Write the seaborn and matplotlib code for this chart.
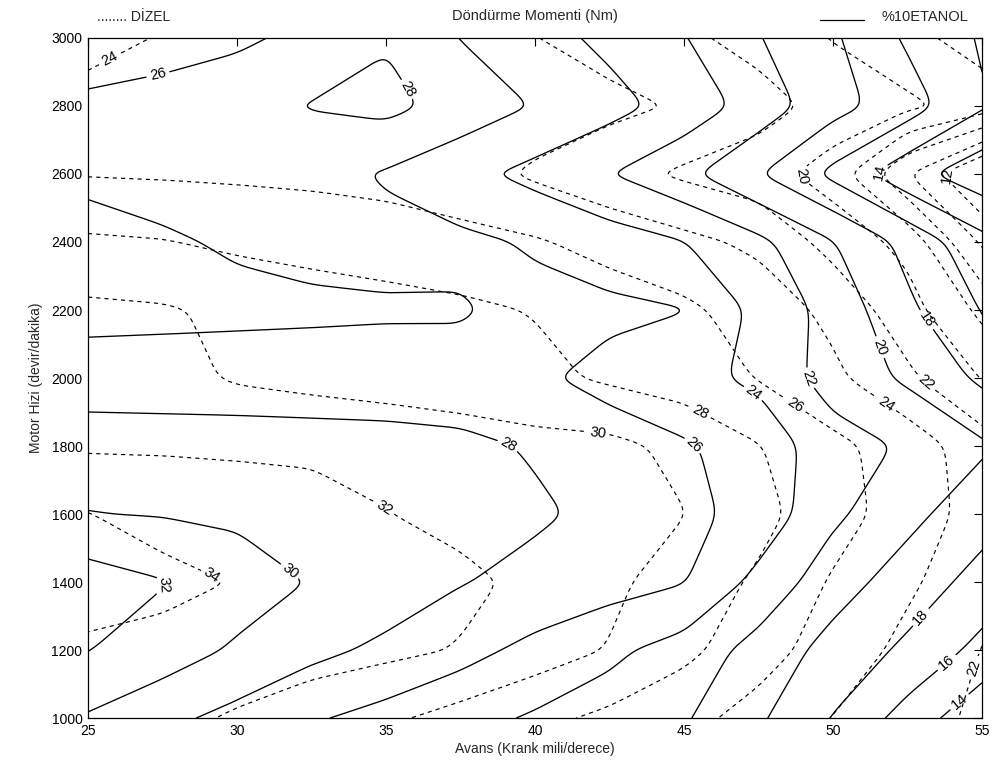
import numpy as np
import matplotlib
matplotlib.use("Agg")
import matplotlib.pyplot as plt
from matplotlib.lines import Line2D
import seaborn as sns

# Grid: injection advance (crank deg) x engine speed (rpm)
advance_deg = [25, 27.5, 30, 32.5, 35, 37.5, 40, 42.5, 45, 47.5, 50, 52.5, 55]
engine_rpm = [3000, 2800, 2600, 2400, 2200, 2000, 1800, 1600, 1400, 1200, 1000]

# Torque (Nm), one row per engine speed, columns follow advance_deg
torque_etanol = [
    [24.5, 25.0, 25.6, 26.6, 27.8, 25.95, 24.8, 23.5, 22.1, 20.1, 18.3, 15.7, 13.8],
    [26.5, 26.9, 27.4, 28.1, 28.6, 27.2, 25.9, 24.7, 23.2, 21.2, 18.7, 16.95, 14.2],
    [26.3, 26.6, 26.9, 26.7, 25.8, 24.6, 23.4, 22.05, 20.5, 18.1, 15.5, 12.7, 10.8],
    [25.5, 25.8, 26.2, 26.5, 26.6, 26.4, 25.8, 24.9, 24.05, 22.5, 20.1, 17.4, 14.6],
    [25.4, 25.5, 25.6, 25.7, 25.8, 25.85, 26.5, 26.4, 26.05, 23.5, 21.3, 18.4, 15.9],
    [26.9, 26.9, 26.9, 26.85, 26.8, 26.6, 26.3, 25.4, 24.6, 23.6, 21.1, 19.7, 17.6],
    [29.1, 29.0, 28.9, 28.8, 28.7, 28.5, 27.8, 26.9, 26.2, 25.2, 22.9, 21.75, 20.3],
    [30.05, 29.9, 29.6, 29.3, 29.1, 28.7, 28.3, 27.5, 26.5, 25.36, 22.4, 20.55, 18.8],
    [33.0, 32.1, 31.1, 29.9, 29.1, 28.1, 27.4, 26.8, 26.1, 23.4, 20.85, 19.1, 17.3],
    [32.05, 31.1, 29.7, 28.5, 27.6, 26.6, 25.5, 24.4, 23.2, 21.3, 19.3, 17.6, 15.4],
    [29.8, 28.5, 27.4, 26.2, 25.4, 24.6, 23.8, 23.1, 22.2, 20.3, 17.9, 15.2, 12.5],
]

torque_dizel = [
    [23.0, 24.2, 24.8, 25.1, 24.9, 24.6, 24.05, 23.2, 22.4, 21.3, 19.9, 18.6, 17.1],
    [25.1, 25.3, 25.5, 25.6, 25.6, 25.4, 25.1, 24.5, 23.8, 22.8, 21.3, 20.4, 19.1],
    [25.9, 25.8, 25.7, 25.6, 25.4, 24.8, 23.7, 22.7, 21.7, 20.9, 19.1, 14.1, 9.5],
    [28.3, 28.1, 27.6, 27.2, 26.9, 26.6, 26.2, 25.3, 24.5, 23.6, 21.3, 19.4, 13.7],
    [30.4, 30.2, 29.6, 29.2, 28.8, 28.4, 27.9, 27.1, 26.4, 25.1, 23.5, 20.8, 17.5],
    [31.1, 30.6, 29.8, 29.4, 29.1, 28.8, 28.5, 27.7, 27.1, 25.9, 24.4, 22.4, 19.9],
    [31.75, 31.8, 31.8, 31.8, 31.5, 31.1, 30.6, 30.5, 29.5, 28.1, 26.5, 25.1, 22.9],
    [34.05, 33.2, 32.7, 32.4, 32.05, 31.5, 31.1, 30.6, 30.05, 28.6, 26.8, 25.1, 23.2],
    [35.1, 34.6, 33.9, 33.1, 32.7, 32.4, 31.6, 30.4, 29.1, 27.7, 25.8, 24.3, 22.8],
    [33.6, 33.3, 33.1, 32.7, 32.4, 31.9, 30.9, 29.9, 28.5, 26.8, 25.1, 23.5, 21.95],
    [32.8, 32.5, 31.8, 31.1, 30.3, 29.4, 28.5, 27.6, 26.6, 25.3, 23.95, 23.1, 21.5],
]

levels_etanol = [12, 14, 16, 18, 20, 22, 24, 26, 28, 30, 32]
levels_dizel = [12, 14, 16, 18, 20, 22, 24, 26, 28, 30, 32, 34]

x_ticks = [25, 30, 35, 40, 45, 50, 55]
y_ticks = [1000, 1200, 1400, 1600, 1800, 2000, 2200, 2400, 2600, 2800, 3000]

# Where the inline level labels sit (advance, rpm)
label_pos_etanol = [
    (27.4, 2880), (35.9, 2860), (39.2, 1818), (32.1, 1470), (27.8, 1390),
    (45.4, 1812), (47.05, 1921), (49.1, 1994), (51.2, 2076), (52.9, 2156),
    (51.3, 2620), (52.9, 1303), (53.9, 1156), (54.3, 1045),
]
label_pos_dizel = [
    (25.7, 2945), (29.2, 1429), (34.9, 1612), (42.1, 1826), (45.7, 1930),
    (48.6, 1900), (51.6, 1900), (53.2, 1994), (48.8, 2590), (53.7, 2600),
    (54.7, 1147),
]

sns.set_theme(style="white")
plt.rcParams["font.family"] = ["Liberation Sans", "DejaVu Sans"]

fig = plt.figure(figsize=(9.94, 7.76), dpi=100)
ax = fig.add_axes([88 / 994, 58 / 776, 894 / 994, 680 / 776])
ax.set_xlim(25, 55)
ax.set_ylim(1000, 3000)

X, Y = np.meshgrid(advance_deg, engine_rpm)


def rounded(seg, sigma_px=9.0, step_px=1.5):
    """Resample a contour polyline evenly on screen and soften its corners."""
    tr = ax.transData
    closed = len(seg) > 3 and np.allclose(seg[0], seg[-1])
    d = tr.transform(seg)
    keep = np.concatenate([[True], np.hypot(*np.diff(d, axis=0).T) > 1e-6])
    d = d[keep]
    if len(d) < 2:
        return [seg, False]
    L = np.concatenate([[0], np.cumsum(np.hypot(*np.diff(d, axis=0).T))])
    n = max(int(L[-1] / step_px), 4)
    s = np.linspace(0, L[-1], n)
    px = np.interp(s, L, d[:, 0])
    py = np.interp(s, L, d[:, 1])
    k = int(3 * sigma_px / step_px)
    w = np.exp(-0.5 * (np.arange(-k, k + 1) * step_px / sigma_px) ** 2)
    w /= w.sum()
    out = []
    for v in (px, py):
        if closed:
            core = v[:-1]
            reps = int(np.ceil(k / max(len(core), 1))) + 1
            ext = np.concatenate([core] * (2 * reps + 1))
            sm = np.convolve(ext, w, mode="same")
            start = reps * len(core)
            sm = sm[start:start + len(core)]
            sm = np.concatenate([sm, sm[:1]])
        else:
            kk = min(k, len(v) - 1)
            left = 2 * v[0] - v[kk:0:-1]
            right = 2 * v[-1] - v[-2:-kk - 2:-1]
            ext = np.concatenate([left, v, right])
            sm = np.convolve(ext, w, mode="same")[kk:kk + len(v)]
        out.append(sm)
    pts = tr.inverted().transform(np.column_stack(out))
    return [pts, closed]


def contour_lines(values, levels):
    cs = ax.contour(X, Y, np.array(values), levels=levels)
    lines = {lev: [rounded(s) for s in segs if len(s) > 1]
             for lev, segs in zip(cs.levels, cs.allsegs)}
    cs.remove()
    return lines


def cut_labels(lines, positions, fontsize):
    """Break each nearest line around its label and return label specs."""
    tr = ax.transData
    specs = []
    for lx, ly in positions:
        p = tr.transform((lx, ly))
        best = None
        for lev, segs in lines.items():
            for k, (pts, closed) in enumerate(segs):
                d = tr.transform(pts)
                dist = np.hypot(d[:, 0] - p[0], d[:, 1] - p[1])
                j = int(dist.argmin())
                if best is None or dist[j] < best[0]:
                    best = (dist[j], lev, k, j)
        _, lev, k, j = best
        pts, closed = lines[lev][k]
        txt = "%d" % lev
        half = 0.5 * len(txt) * fontsize * 1.389 * 0.58 + 2.5
        if closed:
            ring = np.roll(pts[:-1], -j, axis=0)
            ring = np.vstack([ring, ring[:1]])
            d = tr.transform(ring)
            L = np.concatenate([[0], np.cumsum(np.hypot(*np.diff(d, axis=0).T))])
            keep = (L > half) & (L < L[-1] - half)
            centre = ring[0]
            a = d[np.argmin(np.abs(L - (L[-1] - half)))]
            b = d[np.argmin(np.abs(L - half))]
            pieces = [ring[keep]]
        else:
            d = tr.transform(pts)
            L = np.concatenate([[0], np.cumsum(np.hypot(*np.diff(d, axis=0).T))])
            Lj = L[j]
            centre = pts[j]
            a = d[np.argmin(np.abs(L - (Lj - half)))]
            b = d[np.argmin(np.abs(L - (Lj + half)))]
            pieces = [pts[L < Lj - half], pts[L > Lj + half]]
        ang = np.degrees(np.arctan2(b[1] - a[1], b[0] - a[0]))
        if ang > 90:
            ang -= 180
        elif ang < -90:
            ang += 180
        lines[lev][k:k + 1] = [[pc, False] for pc in pieces if len(pc) > 1]
        specs.append((centre, ang, txt))
    return specs


dizel_lines = contour_lines(torque_dizel, levels_dizel)
etanol_lines = contour_lines(torque_etanol, levels_etanol)

label_size = 10.5
dizel_specs = cut_labels(dizel_lines, label_pos_dizel, label_size)
etanol_specs = cut_labels(etanol_lines, label_pos_etanol, label_size)

for segs in dizel_lines.values():
    for pts, _ in segs:
        ax.plot(pts[:, 0], pts[:, 1], color="black", linewidth=0.85,
                linestyle=(0, (3.5, 3.5)))
for segs in etanol_lines.values():
    for pts, _ in segs:
        ax.plot(pts[:, 0], pts[:, 1], color="black", linewidth=0.95,
                linestyle="solid")

for centre, ang, txt in dizel_specs + etanol_specs:
    ax.text(centre[0], centre[1], txt, rotation=ang, rotation_mode="anchor",
            ha="center", va="center", fontsize=label_size, color="black")

ax.set_xticks(x_ticks)
ax.set_yticks(y_ticks)
ax.tick_params(direction="in", length=6, width=0.8, top=True, right=True,
               labelsize=10, colors="black", pad=4)
for side in ax.spines.values():
    side.set_color("black")
    side.set_linewidth(0.9)

ax.set_xlabel("Avans (Krank mili/derece)", fontsize=10, labelpad=3)
ax.set_ylabel("Motor Hizi (devir/dakika)", fontsize=10, labelpad=6)

fig.text(535 / 994, 1 - 16 / 776, "Döndürme Momenti (Nm)", ha="center",
         va="center", fontsize=10.5)
fig.text(97 / 994, 1 - 17 / 776, "........ DİZEL", ha="left", va="center",
         fontsize=10)
fig.add_artist(Line2D([820 / 994, 864 / 994], [1 - 20 / 776, 1 - 20 / 776],
                      color="black", linewidth=0.9))
fig.text(882 / 994, 1 - 17 / 776, "%10ETANOL", ha="left", va="center",
         fontsize=10.5)

fig.savefig("out.png", dpi=100, facecolor="white")
